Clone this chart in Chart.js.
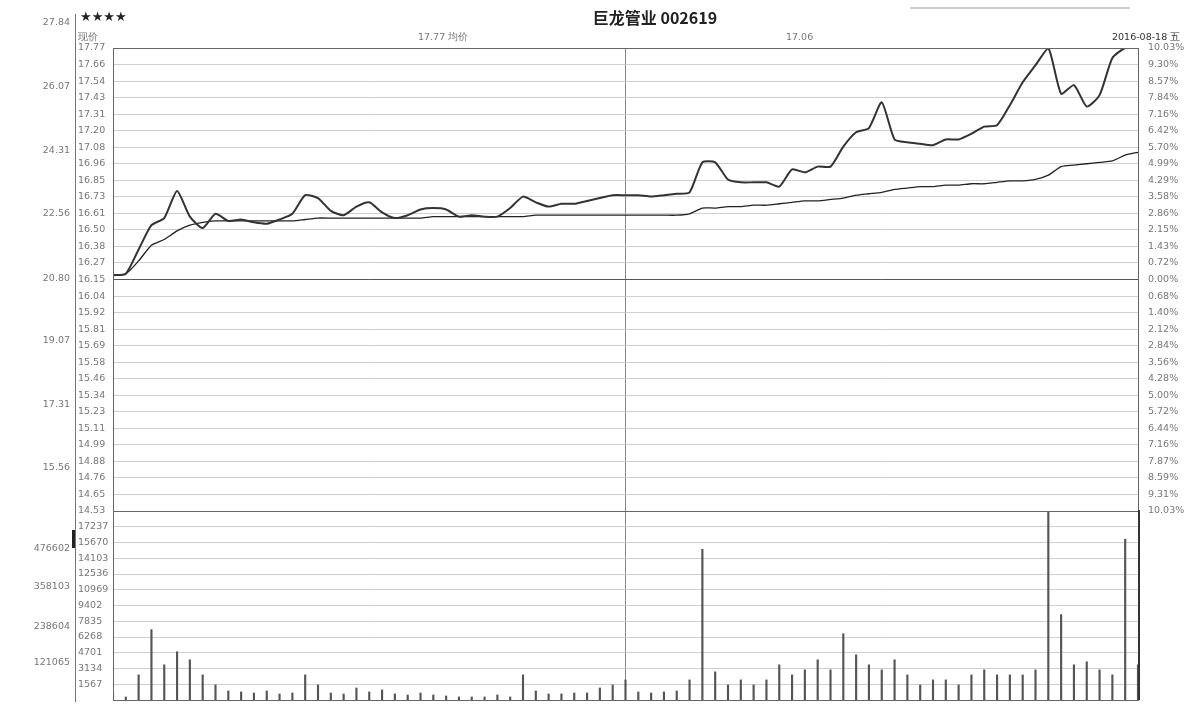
<!DOCTYPE html>
<html><head><meta charset="utf-8">
<script src="https://cdn.jsdelivr.net/npm/chart.js@4"></script>
<style>
body{margin:0;background:#fff;width:1198px;height:714px;overflow:hidden;position:relative;font-family:"DejaVu Sans",sans-serif}
canvas{position:absolute;left:0;top:0}
.t{position:absolute;font-size:9.5px;color:#777;white-space:nowrap}
</style></head><body>
<canvas id="c1" width="1198" height="714"></canvas>
<canvas id="c2" width="1198" height="714"></canvas>
<div class="t" style="left:655px;top:5px;transform:translateX(-50%);font:bold 16px 'Noto Sans CJK SC';color:#222">巨龙管业 002619</div>
<div class="t" style="left:80px;top:9px;font-size:13px;color:#222;font-weight:bold">★★★★</div>
<div class="t" style="left:78px;top:31px">现价</div>
<div class="t" style="left:418px;top:31px">17.77 均价</div>
<div class="t" style="left:786px;top:31px">17.06</div>
<div class="t" style="left:1112px;top:31px;color:#333">2016-08-18 五</div>
<div style="position:absolute;left:910px;top:7px;width:220px;height:2px;background:#ccc"></div>
<div style="position:absolute;left:75px;top:14px;width:1px;height:688px;background:#777"></div>
<div style="position:absolute;left:72px;top:530px;width:3px;height:18px;background:#222"></div>
<div style="position:absolute;left:1138px;top:510px;width:2px;height:190px;background:#333"></div>
<div id="outer"></div>
<script>
const times=[];for(let i=0;i<81;i++){let m=i<=40?570+3*i:780+3*(i-40);times.push(Math.floor(m/60)+':'+String(m%60).padStart(2,'0'));}
const price=[16.18,16.19,16.36,16.53,16.58,16.77,16.59,16.51,16.61,16.56,16.57,16.55,16.54,16.57,16.61,16.74,16.72,16.63,16.60,16.66,16.69,16.62,16.58,16.60,16.64,16.65,16.64,16.59,16.60,16.59,16.59,16.65,16.73,16.69,16.66,16.68,16.68,16.70,16.72,16.74,16.74,
16.74,16.73,16.74,16.75,16.76,16.97,16.97,16.85,16.83,16.83,16.83,16.80,16.92,16.90,16.94,16.94,17.08,17.18,17.21,17.39,17.13,17.11,17.10,17.09,17.13,17.13,17.17,17.22,17.23,17.37,17.53,17.65,17.77,17.45,17.51,17.36,17.44,17.70,17.77,17.77];
const avgPrice=[16.18,16.19,16.28,16.39,16.43,16.49,16.53,16.55,16.56,16.56,16.56,16.56,16.56,16.56,16.56,16.57,16.58,16.58,16.58,16.58,16.58,16.58,16.58,16.58,16.58,16.59,16.59,16.59,16.59,16.59,16.59,16.59,16.59,16.60,16.60,16.60,16.60,16.60,16.60,16.60,16.60,
16.60,16.60,16.60,16.60,16.61,16.65,16.65,16.66,16.66,16.67,16.67,16.68,16.69,16.70,16.70,16.71,16.72,16.74,16.75,16.76,16.78,16.79,16.80,16.80,16.81,16.81,16.82,16.82,16.83,16.84,16.84,16.85,16.88,16.94,16.95,16.96,16.97,16.98,17.02,17.04];
const volume=[800,300,2500,7000,3500,4800,4000,2500,1500,900,800,700,900,600,700,2500,1500,700,600,1200,800,1000,600,500,700,500,400,300,300,300,500,300,2500,900,600,600,700,700,1200,1500,2000,
800,700,800,900,2000,15000,2800,1500,2000,1500,2000,3500,2500,3000,4000,3000,6600,4500,3500,3000,4000,2500,1500,2000,2000,1500,2500,3000,2500,2500,2500,3000,18800,8500,3500,3800,3000,2500,16000,3500];
const priceTickLabels=['17.77','17.66','17.54','17.43','17.31','17.20','17.08','16.96','16.85','16.73','16.61','16.50','16.38','16.27','16.15','16.04','15.92','15.81','15.69','15.58','15.46','15.34','15.23','15.11','14.99','14.88','14.76','14.65','14.53'];
const pctTickLabels=['10.03%','9.30%','8.57%','7.84%','7.16%','6.42%','5.70%','4.99%','4.29%','3.58%','2.86%','2.15%','1.43%','0.72%','0.00%','0.68%','1.40%','2.12%','2.84%','3.56%','4.28%','5.00%','5.72%','6.44%','7.16%','7.87%','8.59%','9.31%','10.03%'];
const volTickLabels=['1567','3134','4701','6268','7835','9402','10969','12536','14103','15670','17237'];
const outerLabels=['27.84','26.07','24.31','22.56','20.80','19.07','17.31','15.56'];
const outerVolLabels=['476602','358103','238604','121065'];
const pMax=17.77,pMin=14.53,step=(pMax-pMin)/28,volMax=18804;
const box={id:'box',afterDraw(c){const a=c.chartArea,x=c.ctx;x.save();x.strokeStyle='#666';x.lineWidth=1;x.strokeRect(a.left+.5,a.top+.5,a.right-a.left,a.bottom-a.top);x.restore();}};
function lftAxis(w,ticks,labels,ext){return Object.assign({position:'left',afterFit:s=>{s.width=w},
 afterBuildTicks:s=>{s.ticks=ticks.map(v=>({value:v}))},
 ticks:{crossAlign:'far',padding:2,color:'#777',font:{size:9.5,family:'DejaVu Sans'},callback:(v,i)=>labels[i]},border:{display:false}},ext);}
const priceTicks=priceTickLabels.map((_,i)=>pMax-i*step);
const gridColor=c=>(c.index===14||c.index===28||c.index===0)?'#555':'#cfcfcf';
const xScale=()=>({type:'category',offset:false,ticks:{display:false,autoSkip:false},grid:{offset:false,drawTicks:false,color:c=>c.index===40?'#888':'transparent'},border:{display:false}});
new Chart(document.getElementById('c1'),{type:'line',data:{labels:times,datasets:[
 {data:price,borderColor:'#333',borderWidth:2,pointRadius:0,tension:0.2,yAxisID:'y'},
 {data:avgPrice,borderColor:'#222',borderWidth:1.3,pointRadius:0,tension:0.2,yAxisID:'y'}]},
 options:{responsive:false,animation:false,events:[],layout:{padding:{left:78,right:0,top:48,bottom:203}},
 plugins:{legend:{display:false},tooltip:{enabled:false}},
 scales:{x:xScale(),
 y:lftAxis(35,priceTicks,priceTickLabels,{min:pMin,max:pMax,grid:{color:gridColor,drawTicks:false}}),
 y2:{position:'right',min:pMin,max:pMax,afterFit:s=>{s.width=60},afterBuildTicks:s=>{s.ticks=priceTicks.map(v=>({value:v}))},
   ticks:{padding:2,color:'#777',font:{size:9.5,family:'DejaVu Sans'},callback:(v,i)=>pctTickLabels[i]},grid:{display:false},border:{display:false}}}},plugins:[box]});
const volTicks=volTickLabels.map(Number);
new Chart(document.getElementById('c2'),{type:'bar',data:{labels:times,datasets:[
 {data:volume,backgroundColor:'#555',barThickness:1.5}]},
 options:{responsive:false,animation:false,events:[],layout:{padding:{left:78,right:60,top:511,bottom:14}},
 plugins:{legend:{display:false},tooltip:{enabled:false}},
 scales:{x:xScale(),y:lftAxis(35,volTicks,volTickLabels,{min:0,max:volMax,grid:{color:'#cfcfcf',drawTicks:false}})}},plugins:[box]});
const o=document.getElementById('outer');
const ys=[22,86,150,213,278,340,404,467],vy=[548,586,626,662];
outerLabels.forEach((l,i)=>{o.insertAdjacentHTML('beforeend',`<div class="t" style="right:${1198-70}px;top:${ys[i]-6}px">${l}</div>`)});
outerVolLabels.forEach((l,i)=>{o.insertAdjacentHTML('beforeend',`<div class="t" style="right:${1198-70}px;top:${vy[i]-6}px">${l}</div>`)});
</script></body></html>
